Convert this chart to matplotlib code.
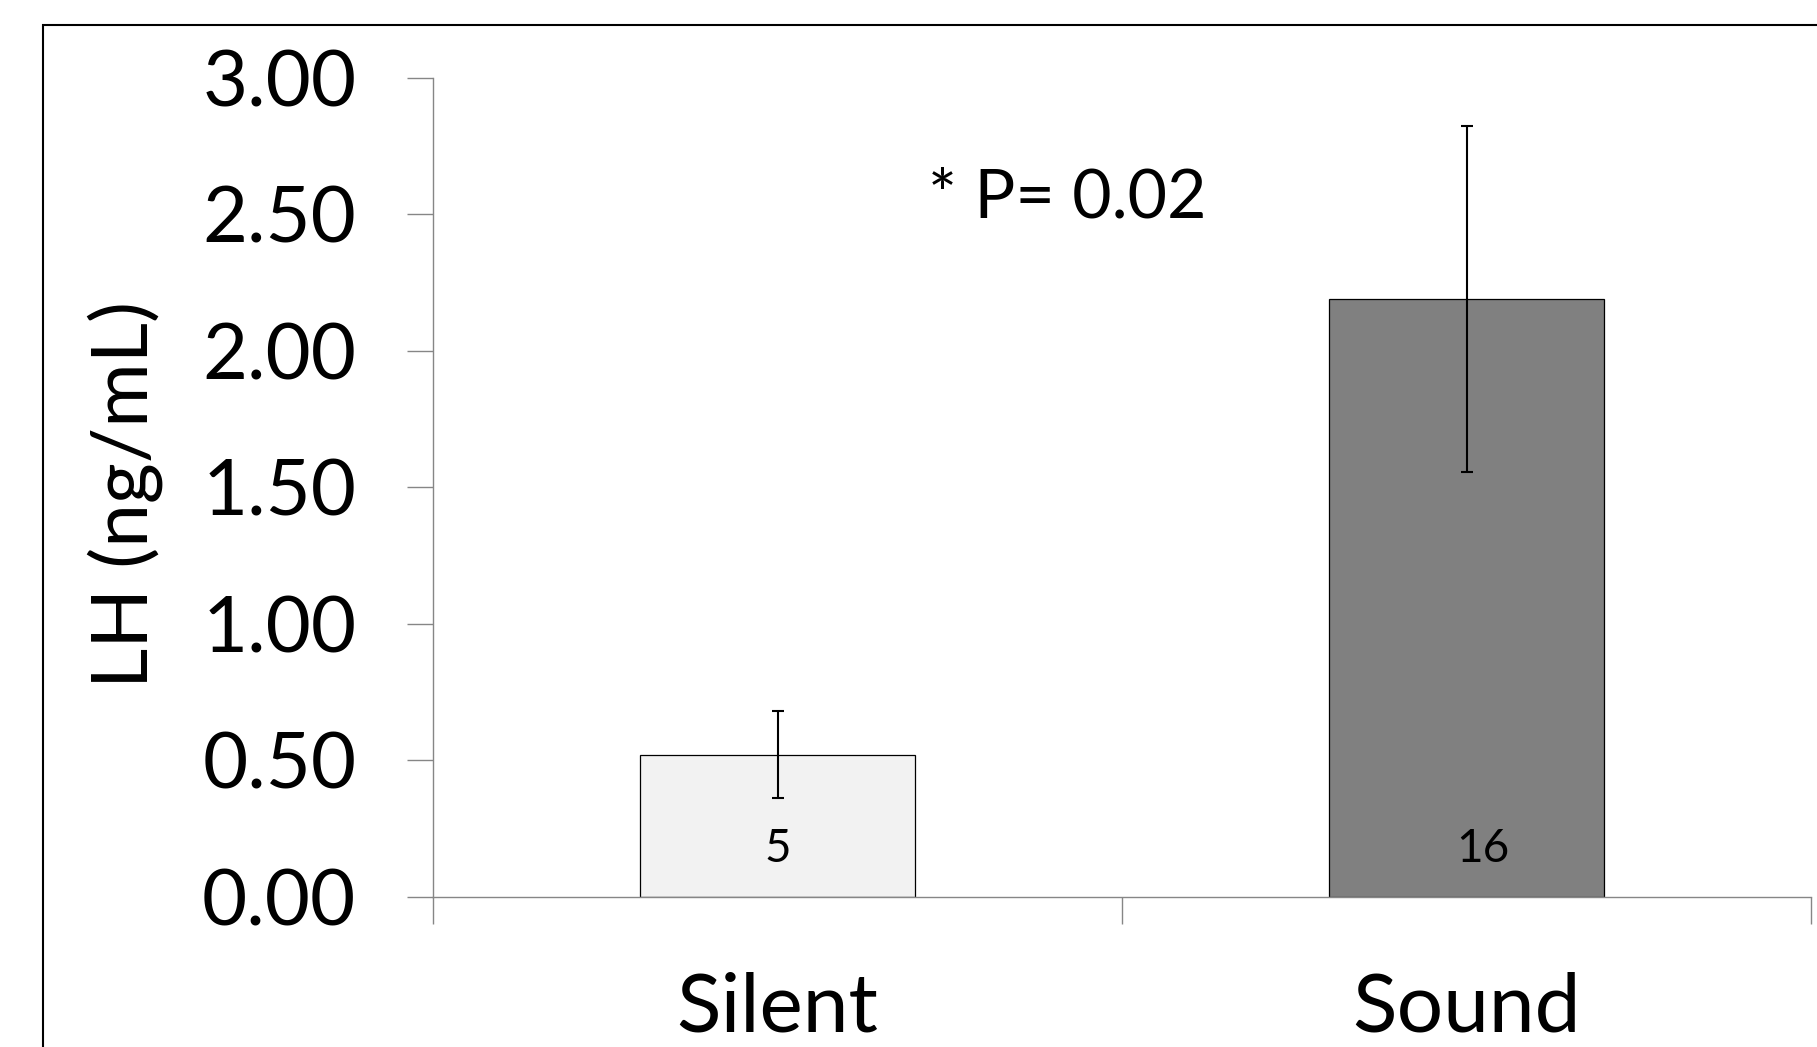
import matplotlib
matplotlib.use("Agg")
import matplotlib.pyplot as plt
from matplotlib.patches import Rectangle

plt.rcParams["font.family"] = ["Lato", "DejaVu Sans"]

groups = ["Silent", "Sound"]
lh_mean = [0.52, 2.19]
lh_err = [0.16, 0.635]
n_animals = [5, 16]
bar_colors = ["#F2F2F2", "#808080"]

W, H = 1817, 1047
fig = plt.figure(figsize=(W / 100, H / 100), dpi=100)
ax = fig.add_axes([433 / W, 1 - 896.5 / H, (1811 - 433) / W, (896.5 - 78) / H])

x = list(range(len(groups)))
ax.bar(x, lh_mean, width=0.4, color=bar_colors, edgecolor="black", linewidth=0.9, zorder=2)
ax.errorbar(x, lh_mean, yerr=lh_err, fmt="none", ecolor="black", elinewidth=1.5,
            capsize=4.3, capthick=1.5, zorder=3)

# n labels inside the bars (the "16" sits a bit right of centre in the original)
label_shift = [0.0, 0.023]
for xi, n, dx in zip(x, n_animals, label_shift):
    ax.text(xi + dx, 0.128, str(n), ha="center", va="baseline", fontsize=33)

ax.text(0.42, 2.49, "* P= 0.02", ha="center", va="baseline", fontsize=49)

ax.set_xlim(-0.5, 1.5)
ax.set_ylim(0, 3)
ax.set_yticks([0, 0.5, 1.0, 1.5, 2.0, 2.5, 3.0])
ax.set_yticklabels([f"{v:.2f}" for v in ax.get_yticks()])
ax.set_xticks(x)
ax.set_xticklabels(groups)
ax.set_xticks([-0.5, 0.5, 1.5], minor=True)

gray = "#868686"
for side in ["top", "right"]:
    ax.spines[side].set_visible(False)
for side in ["left", "bottom"]:
    ax.spines[side].set_color(gray)
    ax.spines[side].set_linewidth(1.0)

ax.tick_params(axis="y", length=18.7, width=1.0, color=gray, labelsize=56, pad=36.5)
ax.tick_params(axis="x", which="major", length=0, labelsize=59, pad=54)
ax.tick_params(axis="x", which="minor", length=19.4, width=1.0, color=gray)

fig.text(125 / W, 1 - 494 / H, "LH (ng/mL)", rotation=90, ha="center", va="center", fontsize=56.5)

# outer frame (partly cut off at right and bottom)
fig.patches.append(Rectangle((43 / W, -0.2), 1.5, 1 - 25 / H + 0.2, transform=fig.transFigure,
                             fill=False, edgecolor="black", linewidth=1.5))

fig.savefig("out.png", dpi=100)
